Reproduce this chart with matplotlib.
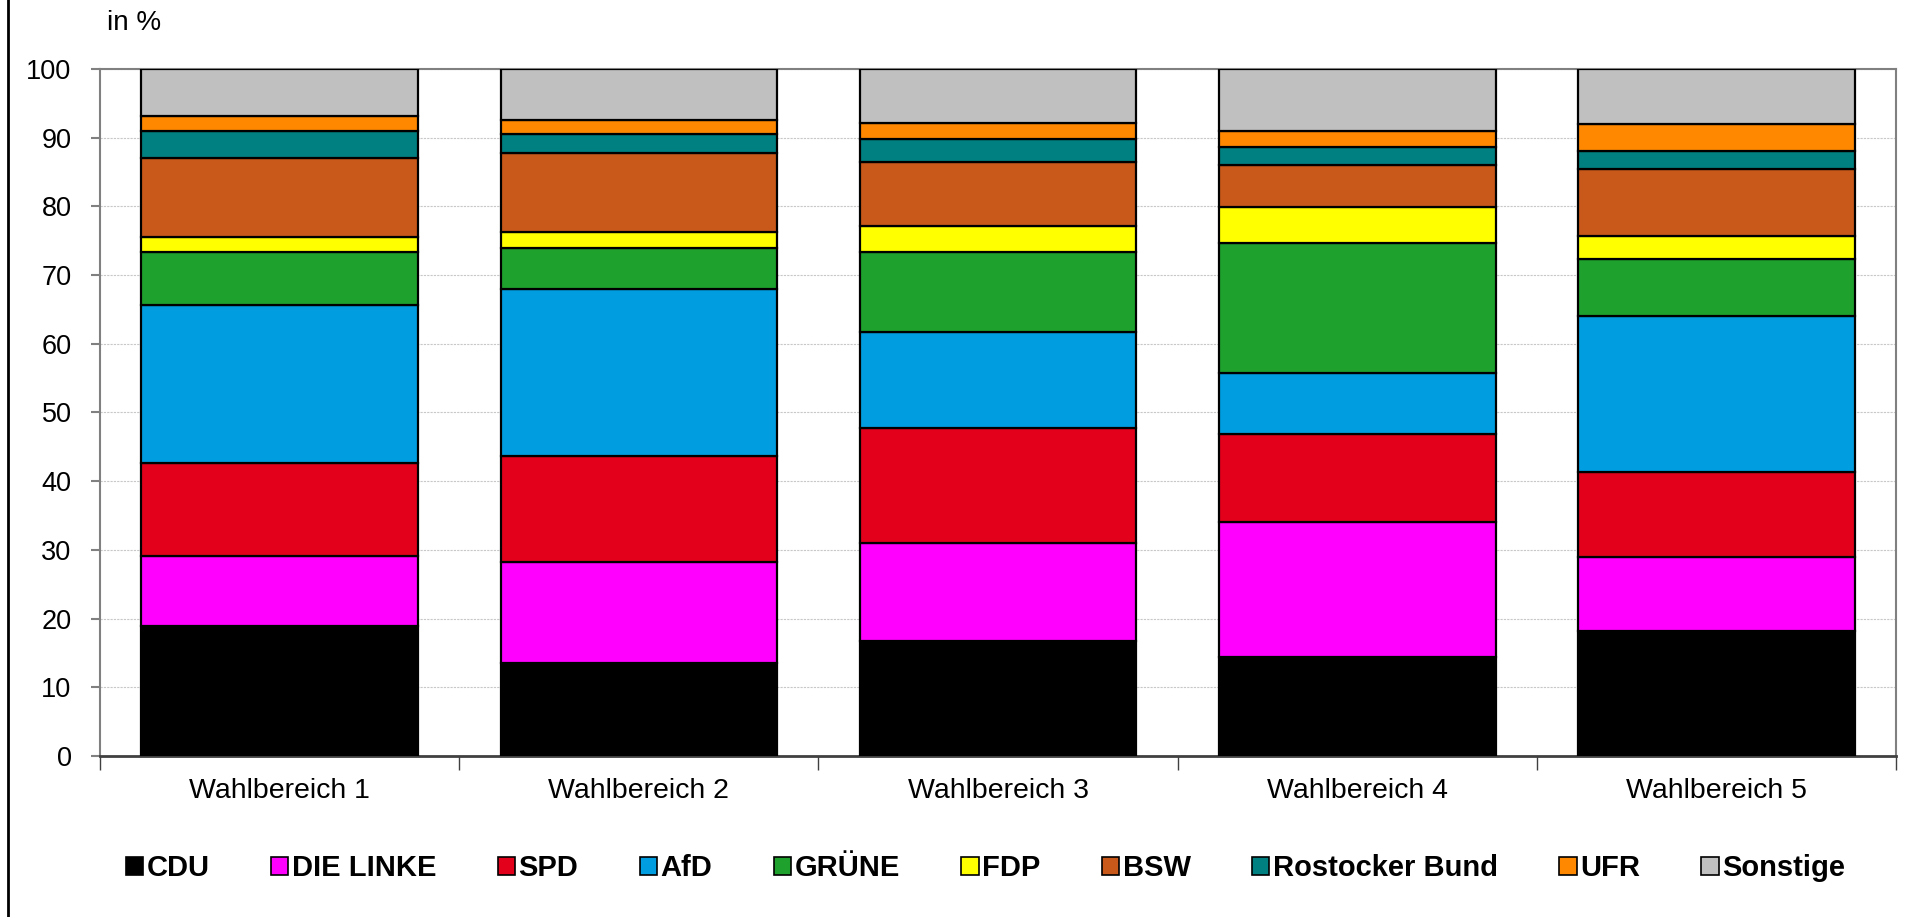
import matplotlib
matplotlib.use("Agg")
from matplotlib import pyplot as plt
from matplotlib.patches import Patch
from matplotlib.lines import Line2D
import numpy as np

plt.rcParams['font.family'] = ['Liberation Sans', 'DejaVu Sans']

bereiche = ["Wahlbereich 1", "Wahlbereich 2", "Wahlbereich 3", "Wahlbereich 4", "Wahlbereich 5"]
parteien = ["CDU", "DIE LINKE", "SPD", "AfD", "GRÜNE", "FDP", "BSW", "Rostocker Bund", "UFR", "Sonstige"]
farben = ["#000000", "#FF00FF", "#E2001A", "#009EE0", "#1FA12E",
          "#FFFF00", "#C8591A", "#008080", "#FF8800", "#C0C0C0"]

# Stimmenanteile in % je Wahlbereich
cdu      = [18.9, 13.6, 16.8, 14.4, 18.2]
linke    = [10.2, 14.7, 14.2, 19.6, 10.8]
spd      = [13.6, 15.4, 16.7, 12.9, 12.4]
afd      = [23.0, 24.3, 14.0,  8.8, 22.6]
gruene   = [ 7.7,  6.0, 11.7, 19.0,  8.3]
fdp      = [ 2.2,  2.3,  3.7,  5.2,  3.4]
bsw      = [11.4, 11.5,  9.4,  6.1,  9.7]
rb       = [ 3.9,  2.8,  3.3,  2.6,  2.7]
ufr      = [ 2.2,  1.9,  2.3,  2.4,  3.9]
sonstige = [ 6.9,  7.5,  7.9,  9.0,  8.0]

werte = [cdu, linke, spd, afd, gruene, fdp, bsw, rb, ufr, sonstige]

fig = plt.figure(figsize=(19.10, 9.17), dpi=100)
ax = fig.add_axes([0.0524, 0.1756, 0.9403, 0.7492])

x = np.arange(len(bereiche))
unten = np.zeros(len(bereiche))
for name, farbe, w in zip(parteien, farben, werte):
    ax.bar(x, w, width=0.77, bottom=unten, color=farbe, edgecolor="black",
           linewidth=1.6, label=name, zorder=3)
    unten += np.array(w)

ax.set_xlim(-0.5, len(bereiche) - 0.5)
ax.set_ylim(0, 100)
ax.set_yticks(range(0, 101, 10))
ax.yaxis.grid(True, color="#c8c8c8", linestyle=(0, (2, 1)), linewidth=0.8, zorder=0)

ax.set_xticks(x)
ax.set_xticklabels(bereiche, fontsize=20.5)
ax.set_xticks(np.arange(-0.5, len(bereiche)), minor=True)
ax.tick_params(axis="x", which="major", length=0, pad=16)
ax.tick_params(axis="x", which="minor", length=10, width=1, color="#404040", direction="out")
ax.tick_params(axis="y", labelsize=19.5, length=6.5, width=1.5, color="#808080", pad=14)

for s in ["top", "right", "left"]:
    ax.spines[s].set_color("#808080")
    ax.spines[s].set_linewidth(1.5)
ax.spines["bottom"].set_color("#404040")
ax.spines["bottom"].set_linewidth(2)

fig.text(0.056, 0.975, "in %", fontsize=20, va="center", ha="left")

# linke Rahmenlinie
fig.add_artist(Line2D([0.0042, 0.0042], [0, 1], color="black", linewidth=2))

handles = [Patch(facecolor=f, edgecolor="black", linewidth=1.2) for f in farben]
fig.legend(handles, parteien, loc="center", bbox_to_anchor=(0.516, 0.053), ncol=10,
           frameon=False, prop={"size": 21, "weight": "bold"},
           handlelength=0.6, handleheight=0.6, handletextpad=0.12, columnspacing=2.1)

fig.savefig("out.png", dpi=100)
